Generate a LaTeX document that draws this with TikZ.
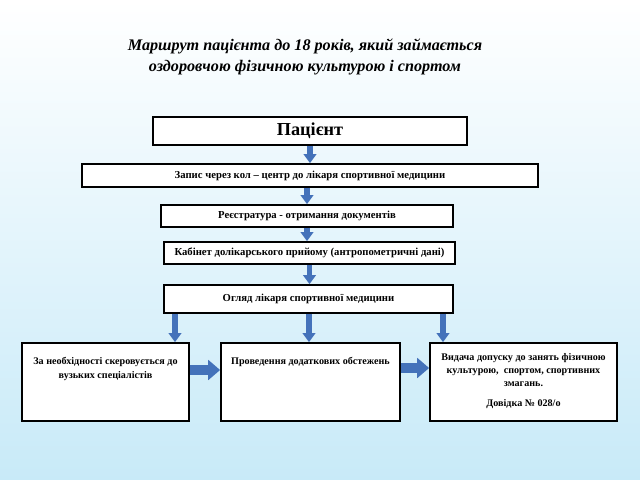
\documentclass[tikz,border=0pt]{standalone}
\usepackage{fontspec}
\setmainfont{Liberation Serif}
\usepackage{xcolor}
\definecolor{bgdeep}{RGB}{200,234,248}
\definecolor{arrblue}{RGB}{68,114,186}
\usetikzlibrary{arrows.meta,positioning,calc}

\begin{document}
\begin{tikzpicture}[x=0.025cm,y=-0.025cm,
  sbox/.style={draw,line width=1.2pt,fill=white,inner sep=0pt},
  stxt/.style={font=\fontsize{7.6}{10}\selectfont\bfseries,align=center},
  btxt/.style={font=\fontsize{7.2}{9.4}\selectfont\bfseries,align=center},
  varr/.style={arrblue,line width=4pt,-{Triangle[width=9pt,length=6.5pt]}},
  harr/.style={arrblue,line width=6.5pt,-{Triangle[width=14pt,length=8.5pt]}}
]
  % background
  \shade[top color=white,middle color=white,bottom color=bgdeep] (0,0) rectangle (640,480);
  \useasboundingbox (0,0) rectangle (640,480);

  % title
  \node[font=\fontsize{11.5}{15}\selectfont\bfseries\itshape,align=center] (title) at (305,57)
    {Маршрут пацієнта до 18 років, який займається\\оздоровчою фізичною культурою і спортом};

  % chain of steps
  \node[sbox,minimum width=7.85cm,minimum height=0.7cm,font=\fontsize{13}{15}\selectfont\bfseries] (pat) at (310,131) {Пацієнт};
  \node[sbox,minimum width=11.4cm,minimum height=0.575cm,stxt] (call) at (310,175.5) {Запис через кол – центр до лікаря спортивної медицини};
  \node[sbox,minimum width=7.3cm,minimum height=0.55cm,stxt] (reg) at (307,216) {Реєстратура - отримання документів};
  \node[sbox,minimum width=7.275cm,minimum height=0.55cm,stxt] (cab) at (309.5,253) {Кабінет долікарського прийому (антропометричні дані)};
  \node[sbox,minimum width=7.225cm,minimum height=0.7cm,stxt] (exam) at (308.5,299) {Огляд лікаря спортивної медицини};

  % bottom row
  \node[sbox,minimum width=4.175cm,minimum height=1.95cm] (spec) at (105.5,382) {};
  \node[sbox,minimum width=4.475cm,minimum height=1.95cm] (extra) at (310.5,382) {};
  \node[sbox,minimum width=4.675cm,minimum height=1.95cm] (admit) at (523.5,382) {};
  \node[btxt] (spect) at (105.5,369) {За необхідності скеровується до\\вузьких спеціалістів};
  \node[btxt] (extrat) at (310.5,362) {Проведення додаткових обстежень};
  \node[btxt] (admitt) at (523.5,381) {Видача допуску до занять фізичною\\культурою,\ \ спортом, спортивних\\змагань.\\[5pt]Довідка № 028/о};

  % arrows
  \draw[varr] (pat.south) -- (pat.south |- call.north);
  \draw[varr] (call.south -| reg.north) -- (reg.north);
  \draw[varr] (reg.south) -- (reg.south |- cab.north);
  \draw[varr] (cab.south) -- (cab.south |- exam.north);
  \draw[varr,line width=4.4pt] (exam.south -| 175,0) -- (spec.north -| 175,0);
  \draw[varr,line width=4.4pt] (exam.south -| 309,0) -- (extra.north -| 309,0);
  \draw[varr,line width=4.4pt] (exam.south -| 443,0) -- (admit.north -| 443,0);
  \draw[harr] (spec.east |- 0,370) -- (extra.west |- 0,370);
  \draw[harr] (extra.east |- 0,368) -- (admit.west |- 0,368);
\end{tikzpicture}
\end{document}
